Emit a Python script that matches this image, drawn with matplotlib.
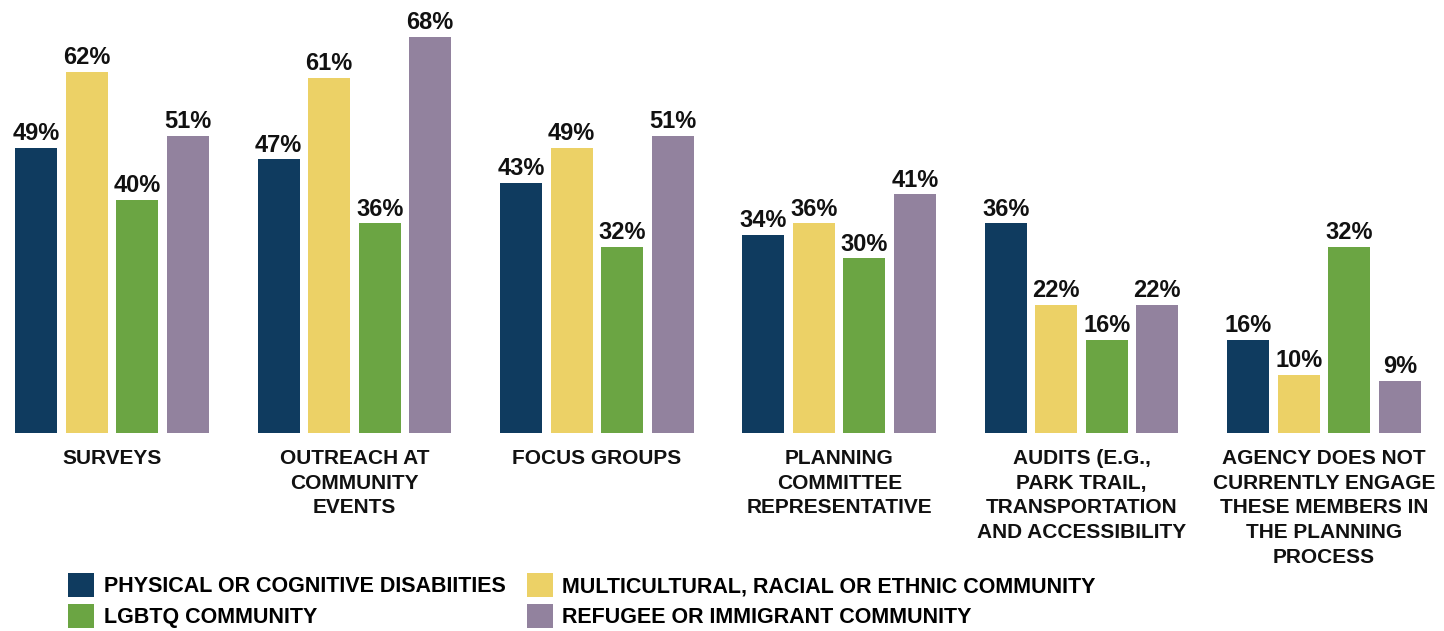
import matplotlib
matplotlib.use("Agg")
import matplotlib.pyplot as plt
import numpy as np

categories = ["SURVEYS", "OUTREACH AT\nCOMMUNITY\nEVENTS", "FOCUS GROUPS",
              "PLANNING\nCOMMITTEE\nREPRESENTATIVE",
              "AUDITS (E.G.,\nPARK TRAIL,\nTRANSPORTATION\nAND ACCESSIBILITY",
              "AGENCY DOES NOT\nCURRENTLY ENGAGE\nTHESE MEMBERS IN\nTHE PLANNING\nPROCESS"]
series_names = ["PHYSICAL OR COGNITIVE DISABIITIES",
                "MULTICULTURAL, RACIAL OR ETHNIC COMMUNITY",
                "LGBTQ COMMUNITY",
                "REFUGEE OR IMMIGRANT COMMUNITY"]
physical = [49, 47, 43, 34, 36, 16]
multicultural = [62, 61, 49, 36, 22, 10]
lgbtq = [40, 36, 32, 30, 16, 32]
refugee = [51, 68, 51, 41, 22, 9]
colors = ["#0F3B5F", "#ECD166", "#6BA543", "#92829E"]

plt.rcParams['font.family'] = ['Liberation Sans', 'DejaVu Sans']
plt.rcParams['font.weight'] = 'bold'

fig = plt.figure(figsize=(14.44, 6.31), dpi=100)
ax = fig.add_axes([0, 1 - 433 / 631, 1, 433 / 631])

x = np.arange(len(categories))
step = 50.5 / 242.4
width = 42 / 242.4
handles = []
for i, (vals, c) in enumerate(zip([physical, multicultural, lgbtq, refugee], colors)):
    bars = ax.bar(x + (i - 1.5) * step, vals, width=width, color=c, label=series_names[i])
    handles.append(bars)
    for b, v in zip(bars, vals):
        ax.annotate(f"{v}%", (b.get_x() + b.get_width() / 2, v), xytext=(0, 2),
                    textcoords='offset points', ha='center', va='bottom',
                    fontsize=17, fontweight='bold', color='#111111')

for xi, cat in zip(x, categories):
    ax.annotate(cat, (xi, 0), xytext=(0, -16), textcoords='offset pixels',
                ha='center', va='top', multialignment='center', fontsize=15,
                fontweight='bold', color='#111111', linespacing=1.38)

ax.set_xlim(-112 / 242.4, (1444 - 112) / 242.4)
ax.set_ylim(0, 433 / 5.82)
ax.axis('off')

order = [0, 2, 1, 3]
fig.legend([handles[k] for k in order], [series_names[k] for k in order],
           ncol=2, loc='upper left',
           bbox_to_anchor=(68 / 1444, 1 - 573 / 631), frameon=False,
           handlelength=1.2, handleheight=1.35, handletextpad=0.45,
           columnspacing=1.0, labelspacing=0.3, borderaxespad=0, borderpad=0,
           prop={'weight': 'bold', 'size': 15.5})

fig.savefig("out.png", dpi=100)
